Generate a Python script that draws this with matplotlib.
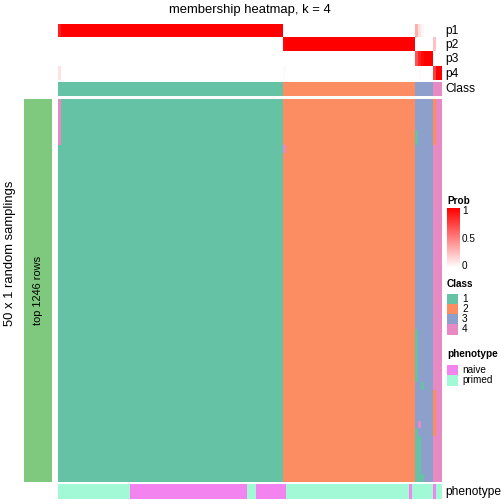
import numpy as np
import matplotlib
matplotlib.use("Agg")
import matplotlib.pyplot as plt
from matplotlib.colors import ListedColormap, LinearSegmentedColormap
from matplotlib.patches import Rectangle

plt.rcParams['font.family'] = ['Liberation Sans', 'DejaVu Sans']

# ---------------- data ----------------
n_samplings = 50
class_names = ["1", "2", "3", "4"]
class_colors = ["#66C2A5", "#FC8D62", "#8DA0CB", "#E78AC3"]
class_counts = [75, 44, 6, 3]          # samples per consensus class (left to right)

phenotype_names = ["naive", "primed"]
phenotype_colors = ["#F383EE", "#A2F9D5"]
phenotype_runs = [("primed", 24), ("naive", 39), ("primed", 3), ("naive", 10),
                  ("primed", 41), ("naive", 1), ("primed", 7), ("naive", 1),
                  ("primed", 2)]

# deviations from consensus in the random samplings:
# (sample column, first sampling row, last sampling row, assigned class)
deviations = [(0, 0, 5, 4), (75, 6, 6, 4),
              (119, 4, 5, 1), (119, 30, 36, 1), (119, 43, 49, 1),
              (120, 42, 42, 4), (120, 44, 49, 1),
              (121, 37, 37, 1), (121, 49, 49, 1),
              (125, 0, 5, 2), (125, 38, 43, 2)]

prob_ticks = [0, 0.5, 1]
prob_tick_labels = ["0", "0.5", "1"]

# ---------------- build matrices ----------------
consensus = np.concatenate([np.full(c, i + 1) for i, c in enumerate(class_counts)])
n_samples = consensus.size
membership = np.tile(consensus, (n_samplings, 1))
for col, r0, r1, cl in deviations:
    membership[r0:r1 + 1, col] = cl
probs = np.array([(membership == k + 1).mean(axis=0) for k in range(4)])
pheno = np.concatenate([np.full(n, phenotype_names.index(p)) for p, n in phenotype_runs])

W = H = 504
fig = plt.figure(figsize=(7, 7), dpi=72)


def px_axes(x0, y0, x1, y1):
    return fig.add_axes([x0 / W, 1 - y1 / H, (x1 - x0) / W, (y1 - y0) / H])


X0, X1 = 58, 442
cls_cmap = ListedColormap(class_colors)
prob_cmap = LinearSegmentedColormap.from_list("prob", ["#FFFFFF", "#FF0000"])
ph_cmap = ListedColormap(phenotype_colors)

LAB = 12
LEG = 10

# probability rows
ax = px_axes(X0, 24, X1, 80.5)
ax.imshow(probs, aspect="auto", cmap=prob_cmap, vmin=0, vmax=1, interpolation="nearest")
ax.axis("off")
for i in range(4):
    fig.text(445 / W, 1 - (31 + 14.2 * i) / H, f"p{i+1}", fontsize=LAB, va="center", ha="left")

# class row
ax = px_axes(X0, 81.7, X1, 95.7)
ax.imshow(consensus[None, :], aspect="auto", cmap=cls_cmap, vmin=0.5, vmax=4.5, interpolation="nearest")
ax.axis("off")
fig.text(445 / W, 1 - 89 / H, "Class", fontsize=LAB, va="center", ha="left")

# main membership heatmap
ax = px_axes(X0, 99, X1, 482)
ax.imshow(membership, aspect="auto", cmap=cls_cmap, vmin=0.5, vmax=4.5, interpolation="nearest")
ax.axis("off")

# phenotype row
ax = px_axes(X0, 484, X1, 499)
ax.imshow(pheno[None, :], aspect="auto", cmap=ph_cmap, vmin=-0.5, vmax=1.5, interpolation="nearest")
ax.axis("off")
fig.text(445 / W, 1 - 491.5 / H, "phenotype", fontsize=LAB, va="center", ha="left")

# left row-annotation bar
ax = px_axes(24, 99, 52, 482)
ax.add_patch(Rectangle((0, 0), 1, 1, color="#7FC97F"))
ax.set_xlim(0, 1); ax.set_ylim(0, 1); ax.axis("off")
ax.text(0.5, 0.5, "top 1246 rows", rotation=90, fontsize=11, ha="center", va="center")
fig.text(10 / W, 1 - 253 / H, "50 x 1 random samplings", rotation=90, fontsize=13,
         ha="center", va="center")

# title
fig.text(250 / W, 1 - 10 / H, "membership heatmap, k = 4", fontsize=13, ha="center", va="center")

# legends
lg = px_axes(440, 190, 504, 400)
lg.set_xlim(440, 504); lg.set_ylim(400, 190); lg.axis("off")
lg.text(447, 201, "Prob", fontsize=LEG, fontweight="bold", ha="left", va="center")
cb = px_axes(447, 208, 460, 268)
grad = np.linspace(1, 0, 100)[:, None]
cb.imshow(grad, aspect="auto", cmap=prob_cmap, vmin=0, vmax=1)
cb.axis("off")
for t, lab in zip(prob_ticks, prob_tick_labels):
    y = 266 - t * 55
    lg.text(462, y, lab, fontsize=LEG, ha="left", va="center")
    if t > 0:
        lg.plot([447, 449], [y, y], color="white", lw=0.8)
        lg.plot([458, 460], [y, y], color="white", lw=0.8)

lg.text(447, 284, "Class", fontsize=LEG, fontweight="bold", ha="left", va="center")
for i, (nm, c) in enumerate(zip(class_names, class_colors)):
    y = 294 + 10 * i
    lg.add_patch(Rectangle((447, y), 10, 10, color=c))
    lg.text(462, y + 5, nm, fontsize=LEG, ha="left", va="center")

lg.text(447, 354, "phenotype", fontsize=LEG, fontweight="bold", ha="left", va="center")
for i, (nm, c) in enumerate(zip(phenotype_names, phenotype_colors)):
    y = 365 + 10 * i
    lg.add_patch(Rectangle((447, y), 10, 10, color=c))
    lg.text(462, y + 5, nm, fontsize=LEG, ha="left", va="center")

fig.savefig("out.png", dpi=72)
